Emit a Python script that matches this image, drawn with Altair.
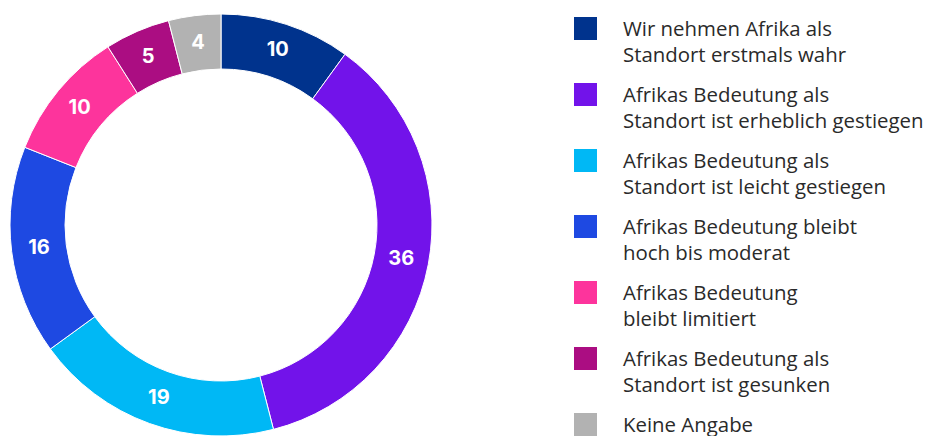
import altair as alt
import pandas as pd

categories = [
    "Wir nehmen Afrika als\nStandort erstmals wahr",
    "Afrikas Bedeutung als\nStandort ist erheblich gestiegen",
    "Afrikas Bedeutung als\nStandort ist leicht gestiegen",
    "Afrikas Bedeutung bleibt\nhoch bis moderat",
    "Afrikas Bedeutung\nbleibt limitiert",
    "Afrikas Bedeutung als\nStandort ist gesunken",
    "Keine Angabe",
]
values = [10, 36, 19, 16, 10, 5, 4]
colors = ["#00338D", "#7213EA", "#00B8F5", "#1E49E2", "#FD349C", "#AB0D82", "#B2B2B2"]
order = list(range(len(categories)))

df = pd.DataFrame({"cat": categories, "value": values, "order": order})

color_enc = alt.Color("cat:N", scale=alt.Scale(domain=categories, range=colors), legend=None)
theta_enc = alt.Theta("value:Q", stack=True)
order_enc = alt.Order("order:Q")

cx, cy = 213, 217

arcs = alt.Chart(df).mark_arc(
    innerRadius=156, outerRadius=211, stroke="white", strokeWidth=1
).encode(theta=theta_enc, order=order_enc, color=color_enc,
         x=alt.value(cx), y=alt.value(cy))

labels = alt.Chart(df).mark_text(
    radius=183.5, font="Inter", fontSize=20, fontWeight="bold", color="white"
).encode(theta=theta_enc, order=order_enc, text="value:Q",
         x=alt.value(cx), y=alt.value(cy))

leg_y = alt.Y("order:Q", scale=alt.Scale(domain=[0, 6], range=[20.5, 416.5]), axis=None)

squares = alt.Chart(df).mark_square(size=529, opacity=1).encode(
    x=alt.value(577.5), y=leg_y, color=color_enc
)

texts = alt.Chart(df).mark_text(
    align="left", baseline="alphabetic", dy=7.5, lineBreak="\n", lineHeight=25.5,
    font="Open Sans", fontSize=20.4, color="#2a2a2a"
).encode(x=alt.value(615), y=leg_y, text="cat:N")

chart = alt.layer(arcs, labels, squares, texts).properties(
    width=916, height=428, padding=0, autosize=alt.AutoSizeParams(type="none")
).configure_view(stroke=None)

chart.save("out.html", embed_options={"renderer": "svg", "actions": False})
